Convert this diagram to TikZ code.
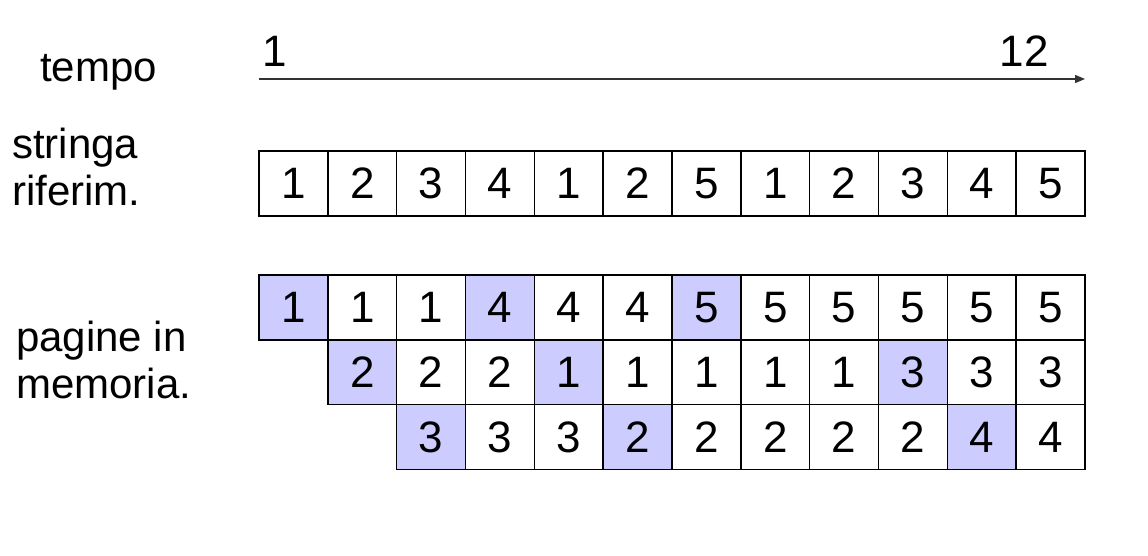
\documentclass[tikz,border=0pt]{standalone}
\usepackage{fontspec}
\setmainfont{Liberation Sans}
\usetikzlibrary{arrows.meta,positioning}
\definecolor{lavanda}{RGB}{204,204,255}
\tikzset{
  cella/.style={draw,line width=1.5pt,minimum width=68.83pt,minimum height=64.8pt,
    inner sep=0pt,outer sep=0pt,font=\fontsize{44}{48}\selectfont},
  nuova/.style={cella,fill=lavanda},
  etich/.style={anchor=base west,align=left,inner sep=0pt,font=\fontsize{42}{47}\selectfont},
  freccia/.style={draw=black!80,line width=1.3pt,-{Triangle[length=10pt,width=8pt]}},
}
\begin{document}
\begin{tikzpicture}[x=1pt,y=-1pt]
    \useasboundingbox (0,0) rectangle (1148,556);
    % etichette a sinistra
    \node[etich] (tempo) at (40,82) {tempo};
    \node[etich] (stringa) at (12,205) {stringa\\riferim.};
    \node[etich] (pagine) at (16,398) {pagine in\\memoria.};
    % asse dei tempi
    \coordinate (inizio) at (259,79);
    \coordinate (fine) at (1085,79);
    \draw[freccia] (inizio) -- (fine);
    \node[anchor=base,inner sep=0pt,font=\fontsize{44}{48}\selectfont] (t1) at (275,67) {1};
    \node[anchor=base,inner sep=0pt,font=\fontsize{44}{48}\selectfont] (t12) at (1024,67) {12};
    % stringa dei riferimenti
    \foreach \v [count=\i] in {1,2,3,4,1,2,5,1,2,3,4,5}
        \node[cella] (r\i) at ({259+68.83*(\i-0.5)},183.5) {\v};
    % pagine in memoria
    \foreach \v/\s [count=\i] in {1/nuova,1/cella,1/cella,4/nuova,4/cella,4/cella,
                                  5/nuova,5/cella,5/cella,5/cella,5/cella,5/cella}
        \node[\s] (a\i) at ({259+68.83*(\i-0.5)},307.4) {\v};
    \foreach \v/\s [count=\i from 2] in {2/nuova,2/cella,2/cella,1/nuova,1/cella,
                                         1/cella,1/cella,1/cella,3/nuova,3/cella,3/cella}
        \node[\s] (b\i) at ({259+68.83*(\i-0.5)},372.2) {\v};
    \foreach \v/\s [count=\i from 3] in {3/nuova,3/cella,3/cella,2/nuova,2/cella,
                                         2/cella,2/cella,2/cella,4/nuova,4/cella}
        \node[\s] (c\i) at ({259+68.83*(\i-0.5)},437) {\v};
\end{tikzpicture}
\end{document}
